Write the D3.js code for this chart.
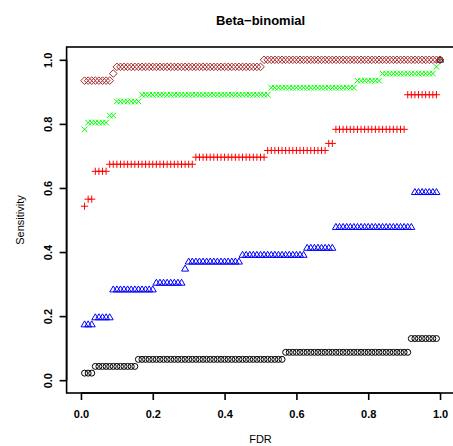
<!DOCTYPE html>
<html>
<head>
<meta charset="utf-8">
<script src="https://cdn.jsdelivr.net/npm/d3@7"></script>
<style>
body { margin: 0; background: #fff; }
svg { display: block; font-family: "Liberation Sans", Arial, Helvetica, sans-serif; }
</style>
</head>
<body>
<svg id="chart" width="453" height="446"></svg>
<script>
var fdrGrid = d3.range(1, 101).map(function (i) { return i / 100; });

var blackLevels = [0.022, 0.043, 0.065, 0.087, 0.130, 1.0];
var blackRuns   = [3, 12, 41, 35, 8, 1];

var blueLevels = [0.174, 0.196, 0.283, 0.304, 0.348, 0.370, 0.391, 0.413, 0.478, 0.587, 1.0];
var blueRuns   = [3, 5, 12, 8, 1, 15, 18, 8, 22, 7, 1];

var redLevels = [0.543, 0.565, 0.652, 0.674, 0.696, 0.717, 0.739, 0.783, 0.891, 1.0];
var redRuns   = [1, 2, 4, 24, 20, 17, 2, 20, 9, 1];

var greenLevels = [0.783, 0.804, 0.826, 0.870, 0.891, 0.913, 0.935, 0.957, 0.978, 1.0];
var greenRuns   = [1, 6, 2, 7, 36, 24, 7, 15, 1, 1];

var brownLevels = [0.935, 0.957, 0.978, 1.0];
var brownRuns   = [8, 1, 41, 50];

var xTicks = [0, 0.2, 0.4, 0.6, 0.8, 1.0];
var yTicks = [0, 0.2, 0.4, 0.6, 0.8, 1.0];

function expand(levels, runs) {
    var out = [];
    levels.forEach(function (v, i) {
        for (var k = 0; k < runs[i]; k++) out.push(v);
    });
    return out.map(function (v, i) { return { x: fdrGrid[i], y: v }; });
}

var series = [
    { name: 'black', color: '#000000', shape: 'circle',   pts: expand(blackLevels, blackRuns) },
    { name: 'blue',  color: '#0000ff', shape: 'triangle', pts: expand(blueLevels, blueRuns) },
    { name: 'red',   color: '#ff0000', shape: 'plus',     pts: expand(redLevels, redRuns) },
    { name: 'green', color: '#00ff00', shape: 'cross',    pts: expand(greenLevels, greenRuns) },
    { name: 'brown', color: '#a52a2a', shape: 'diamond',  pts: expand(brownLevels, brownRuns) }
];

var svg = d3.select('#chart');
var pLeft = 66.6, pRight = 454.4, pTop = 47, pBottom = 393;

var x = d3.scaleLinear().domain([-0.04, 1.04]).range([pLeft, pRight]);
var y = d3.scaleLinear().domain([-0.04, 1.04]).range([pBottom, pTop]);

var shapes = {
    circle:   'M3,0 A3,3 0 1,1 -3,0 A3,3 0 1,1 3,0 Z',
    triangle: 'M0,-3.6 L3.5,2.4 L-3.5,2.4 Z',
    plus:     'M-3.6,0 L3.6,0 M0,-3.6 L0,3.6',
    cross:    'M-2.8,-2.8 L2.8,2.8 M-2.8,2.8 L2.8,-2.8',
    diamond:  'M0,-3.8 L3.8,0 L0,3.8 L-3.8,0 Z'
};

// points
series.forEach(function (s) {
    svg.append('g').attr('class', 'series ' + s.name)
    .selectAll('path')
    .data(s.pts)
    .enter()
    .append('path')
    .attr('transform', function (d) { return 'translate(' + x(d.x) + ',' + y(d.y) + ')'; })
    .attr('d', shapes[s.shape])
    .attr('fill', 'none')
    .attr('stroke', s.color)
    .attr('stroke-width', 1);
});

// box
svg.append('rect')
.attr('x', pLeft).attr('y', pTop)
.attr('width', pRight - pLeft).attr('height', pBottom - pTop)
.attr('fill', 'none').attr('stroke', '#000').attr('stroke-width', 1.6);

// axes
var xAxis = d3.axisBottom(x).tickValues(xTicks).tickFormat(d3.format('.1f')).tickSize(7).tickPadding(10);
var gx = svg.append('g').attr('transform', 'translate(0,' + pBottom + ')').call(xAxis);
gx.select('.domain').attr('d', 'M' + x(0) + ',0H' + x(1)).attr('stroke-width', 1.6);
gx.selectAll('line').attr('stroke-width', 1.6);
gx.selectAll('text').attr('font-size', 11).attr('font-weight', 'bold').attr('font-family', null);

var yAxis = d3.axisLeft(y).tickValues(yTicks).tickFormat(d3.format('.1f')).tickSize(7);
var gy = svg.append('g').attr('transform', 'translate(' + pLeft + ',0)').call(yAxis);
gy.select('.domain').attr('d', 'M0,' + y(0) + 'V' + y(1)).attr('stroke-width', 1.6);
gy.selectAll('line').attr('stroke-width', 1.6);
gy.selectAll('text')
.attr('font-size', 11).attr('font-weight', 'bold').attr('font-family', null)
.attr('x', null).attr('dy', null)
.attr('text-anchor', 'middle')
.attr('transform', 'translate(-15,0) rotate(-90)');

// titles
svg.append('text')
.attr('x', (pLeft + pRight) / 2).attr('y', 25)
.attr('text-anchor', 'middle')
.attr('font-size', 13).attr('font-weight', 'bold')
.text('Beta\u2212binomial');

svg.append('text')
.attr('x', (pLeft + pRight) / 2).attr('y', 443)
.attr('text-anchor', 'middle')
.attr('font-size', 11)
.text('FDR');

svg.append('text')
.attr('transform', 'translate(24,' + ((pTop + pBottom) / 2) + ') rotate(-90)')
.attr('text-anchor', 'middle')
.attr('font-size', 11)
.text('Sensitivity');
</script>
</body>
</html>
